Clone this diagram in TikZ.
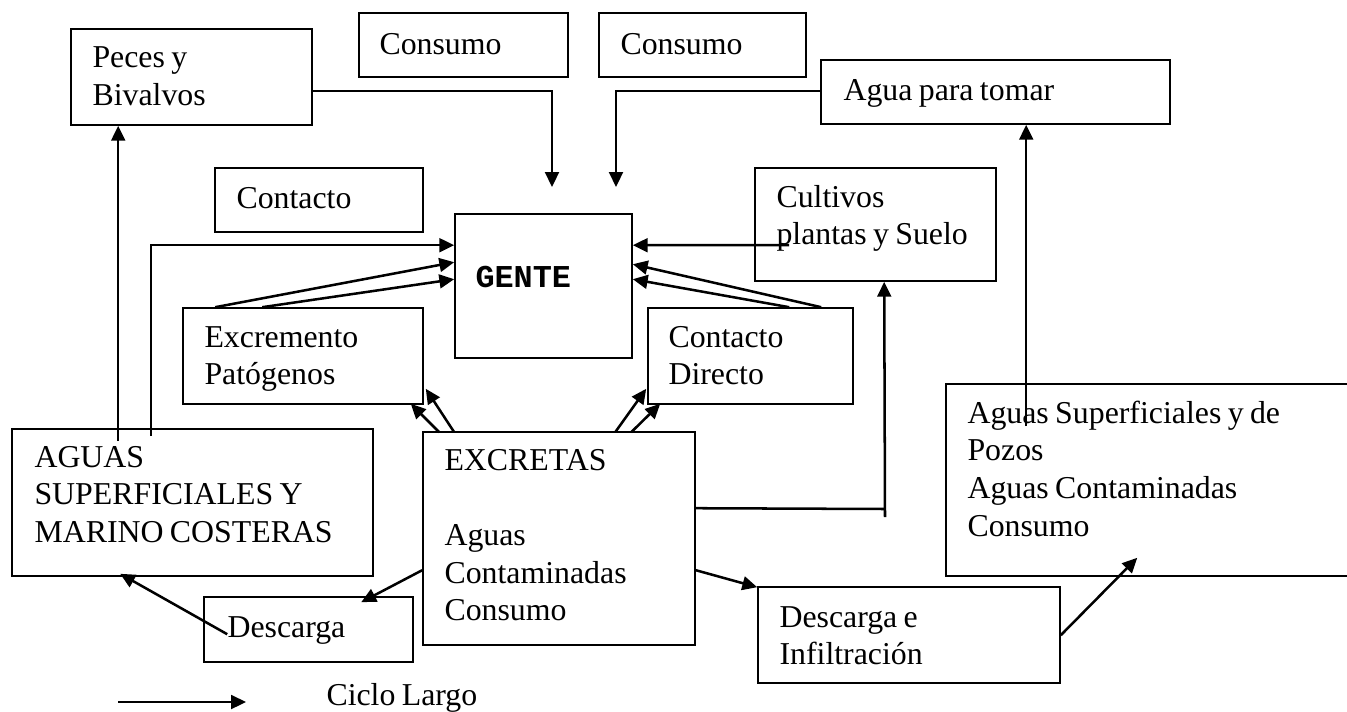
\documentclass[tikz,border=0pt]{standalone}
\usepackage{fontspec}
\setmainfont{Liberation Serif}
\newfontfamily\gentefont{Liberation Mono}
\usetikzlibrary{arrows.meta, calc, fit}

\begin{document}
\begin{tikzpicture}[x=0.377pt, y=-0.377pt,
    box/.style={draw, line width=0.6pt, inner sep=0pt},
    txt/.style={anchor=base west, inner sep=0pt, text width=170pt, align=left,
        font=\fontsize{12}{14.2}\selectfont, execute at begin node={\spaceskip=2.4pt plus 1pt minus 0.5pt\relax}},
    arr/.style={line width=0.95pt, -{Triangle[length=5.6pt, width=5.2pt]}},
    ln/.style={line width=0.95pt}]
    \useasboundingbox (0,0) rectangle (1347,712);
    % Boxes
    \node[box, fit={(71,29) (312,125)}] (peces) {};
    \node[box, fit={(359,13) (568,77)}] (cons1) {};
    \node[box, fit={(599,13) (806,77)}] (cons2) {};
    \node[box, fit={(821,60) (1170,124)}] (agua) {};
    \node[box, fit={(215,168) (423,232)}] (cont) {};
    \node[box, fit={(455,214) (632,358)}] (gente) {};
    \node[box, fit={(755,168) (996,281)}] (cult) {};
    \node[box, fit={(183,308) (423,404)}] (excr) {};
    \node[box, fit={(648,308) (853,404)}] (cdir) {};
    \node[box, fit={(12,429) (373,576)}] (aguas) {};
    \node[box, fit={(423,432) (695,645)}] (excretas) {};
    \node[box, fit={(204,597) (413,662)}] (desc) {};
    \node[box, fit={(946,384) (1365,576)}] (aguasup) {};
    \node[box, fit={(758,587) (1060,683)}] (descinf) {};
    % Texts
    \node[txt] (pecestxt) at (92,68) {Peces y\\Bivalvos};
    \node[txt] (cons1txt) at (379,54) {Consumo};
    \node[txt] (cons2txt) at (620,54) {Consumo};
    \node[txt] (aguatxt) at (843,100) {Agua para tomar};
    \node[txt] (conttxt) at (236,208) {Contacto};
    \node[txt, font=\gentefont\bfseries\fontsize{12}{14}\selectfont] (gentetxt) at (475,287) {GENTE};
    \node[txt] (culttxt) at (776,207) {Cultivos\\plantas y Suelo};
    \node[txt] (excrtxt) at (204,347) {Excremento\\Patógenos};
    \node[txt] (cdirtxt) at (668,347) {Contacto\\Directo};
    \node[txt] (aguastxt) at (34,467) {AGUAS\\SUPERFICIALES Y\\MARINO COSTERAS};
    \node[txt] (excretastxt) at (444,470) {EXCRETAS\\[14.2pt]Aguas\\Contaminadas\\Consumo};
    \node[txt] (desctxt) at (227,637) {Descarga};
    \node[txt] (aguasuptxt) at (967,423) {Aguas Superficiales y de\\Pozos\\Aguas Contaminadas\\Consumo};
    \node[txt] (descinftxt) at (779,627) {Descarga e\\Infiltración};
    \node[txt] (leyenda) at (326,705) {Ciclo Largo};
    % Consumo arrows
    \coordinate (c1) at (552,187);
    \coordinate (c2) at (616,187);
    \draw[arr] ($(peces.north east)+(0,63)$) -| (c1);
    \draw[arr] ($(agua.north west)+(0,32)$) -| (c2);
    % Aguas to Peces and Gente
    \draw[arr] ($(aguas.north west)+(107,13)$) -- ($(peces.south west)+(48,0)$);
    \draw[arr] ($(aguas.north west)+(140,8)$) |- ($(gente.north west)+(0,32)$);
    % Excremento and Contacto Directo to Gente
    \draw[arr] ($(excr.north west)+(33,0)$) -- ($(gente.north west)+(0,49)$);
    \draw[arr] ($(excr.north west)+(80,0)$) -- ($(gente.north west)+(0,66)$);
    \draw[arr] ($(cult.north west)+(35,78)$) -- ($(gente.north east)+(0,32)$);
    \draw[arr] ($(cdir.north west)+(142,0)$) -- ($(gente.north east)+(0,66)$);
    \draw[arr] ($(cdir.north west)+(174,0)$) -- ($(gente.north east)+(0,51)$);
    % Excretas outputs
    \draw[arr] ($(excretas.north west)+(17,1)$) -- ($(excr.south east)+(-13,-1)$);
    \draw[arr] ($(excretas.north west)+(32,1)$) -- ($(excr.south east)+(2,-16)$);
    \draw[arr] ($(excretas.north west)+(193,1)$) -- ($(cdir.south west)+(-1,-16)$);
    \draw[arr] ($(excretas.north west)+(209,1)$) -- ($(cdir.south west)+(13,-1)$);
    \coordinate (c3) at (885,517);
    \draw[ln] ($(excretas.north east)+(0,77)$) -- (885,509);
    \draw[arr] (c3) -- ($(cult.south west)+(130,0)$);
    \draw[arr] ($(excretas.north west)+(0,139)$) -- ($(desc.north west)+(158,6)$);
    \draw[arr] ($(desc.north west)+(24,38)$) -- ($(aguas.south west)+(109,-3)$);
    \draw[arr] ($(excretas.north east)+(0,139)$) -- ($(descinf.north west)+(0,1)$);
    \draw[arr] ($(descinf.north east)+(0,49)$) -- ($(aguasup.south west)+(192,-19)$);
    % Pozos to Agua para tomar
    \draw[arr] ($(aguasup.north west)+(81,43)$) -- ($(agua.south west)+(206,0)$);
    % Legend
    \coordinate (l1) at (118,702);
    \coordinate (l2) at (246,702);
    \draw[arr] (l1) -- (l2);
\end{tikzpicture}
\end{document}
